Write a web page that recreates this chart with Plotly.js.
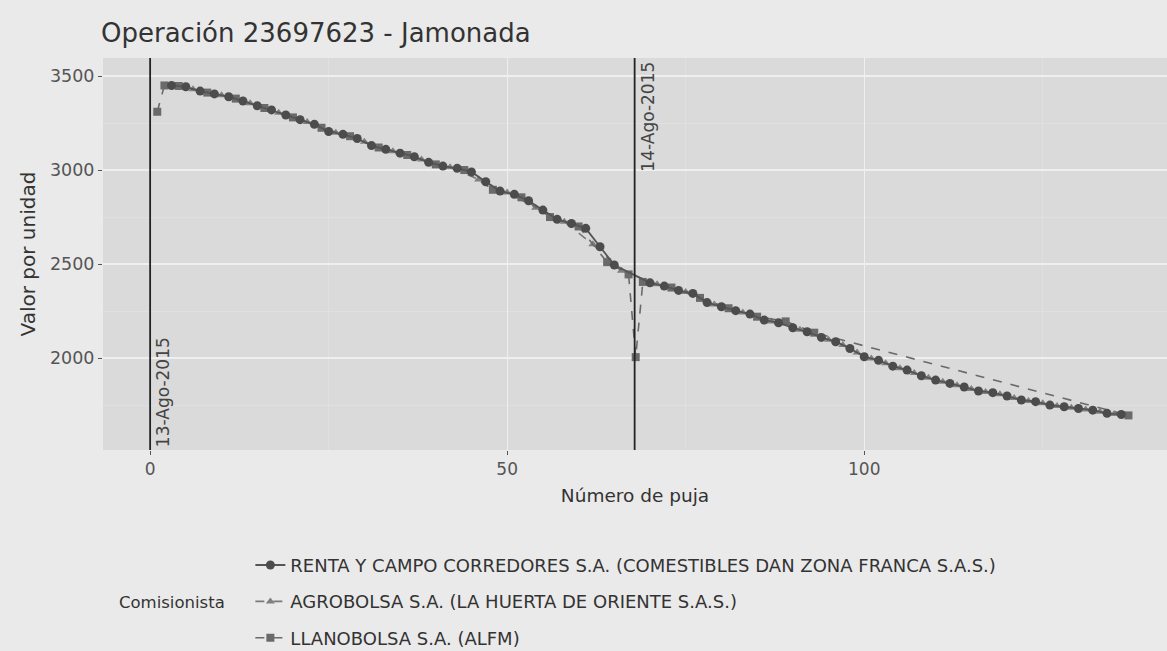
<!DOCTYPE html>
<html>
<head>
<meta charset="utf-8">
<script src="https://cdn.plot.ly/plotly-3.0.1.min.js"></script>
<style>
html,body{margin:0;padding:0;background:#eaeaea;}
#chart{width:1167px;height:651px;}
</style>
</head>
<body>
<div id="chart"></div>
<script>
// ---- Data ----
const seriesNames = [
  "RENTA Y CAMPO CORREDORES S.A. (COMESTIBLES DAN ZONA FRANCA S.A.S.)",
  "AGROBOLSA S.A. (LA HUERTA DE ORIENTE S.A.S.)",
  "LLANOBOLSA S.A. (ALFM)"
];

// RENTA Y CAMPO (circles, solid)
const rentaBid = [3,5,7,9,11,13,15,17,19,21,23,25,27,29,31,33,35,37,39,41,43,45,47,49,51,53,55,57,59,61,63,65,
  70,72,74,76,78,80,82,84,86,88,90,92,94,96,98,100,102,104,106,108,110,112,114,116,118,120,122,124,126,128,130,132,134,136];
const rentaVal = [3450,3443,3420,3405,3390,3367,3342,3320,3293,3268,3243,3205,3190,3168,3130,3110,3090,3071,3041,3021,3009,2990,2938,2888,2871,2837,2787,2738,2716,2690,2592,2495,
  2400,2383,2360,2344,2295,2273,2252,2234,2202,2188,2161,2140,2110,2087,2051,2007,1988,1957,1936,1906,1883,1865,1846,1825,1816,1798,1777,1768,1750,1741,1732,1723,1706,1700];

// AGROBOLSA (triangles, dashed)
const agroBid = [6,10,14,18,22,26,30,34,38,42,46,50,54,58,62,66,
  71,75,79,83,87,91,95,97,99,101,103,105,107,109,111,113,115,117,119,121,123,125,127,129,131,133,135];
const agroVal = [3430,3398,3355,3305,3255,3198,3150,3100,3056,3015,2950,2880,2800,2725,2605,2465,
  2392,2352,2285,2243,2195,2150,2098,2070,2030,1998,1972,1946,1920,1895,1874,1855,1835,1820,1807,1788,1772,1759,1745,1736,1727,1714,1703];

// LLANOBOLSA (squares, dashed)
const llanoBid = [1,2,4,8,12,16,20,24,28,32,36,40,44,48,52,56,60,64,67,68,69,73,77,81,85,89,93,137];
const llanoVal = [3310,3450,3447,3412,3380,3330,3280,3225,3180,3120,3080,3030,3000,2895,2855,2750,2700,2510,2445,2005,2405,2375,2320,2265,2220,2195,2135,1695];

// Day markers
const dayBid = [0, 67.85];
const dayLabel = ["13-Ago-2015", "14-Ago-2015"];
const dayLabelPos = ["bottom", "top"];

const xTicks = [0, 50, 100];
const yTicks = [2000, 2500, 3000, 3500];

// ---- Chart ----
const font = "DejaVu Sans, Liberation Sans, sans-serif";
const traces = [
  {x: agroBid, y: agroVal, name: seriesNames[1], mode: "lines+markers", legendrank: 2,
   line: {color: "#7a7a7a", width: 1.6, dash: "dash"},
   marker: {symbol: "triangle-up", size: 8, color: "#808080"}, legendgroup: "b"},
  {x: llanoBid, y: llanoVal, name: seriesNames[2], mode: "lines+markers", legendrank: 3,
   line: {color: "#6a6a6a", width: 1.6, dash: "dash"},
   marker: {symbol: "square", size: 8, color: "#6a6a6a"}, legendgroup: "c"},
  {x: rentaBid, y: rentaVal, name: seriesNames[0], mode: "lines+markers", legendrank: 1,
   line: {color: "#555555", width: 1.8, dash: "solid"},
   marker: {symbol: "circle", size: 9, color: "#4c4c4c"}, legendgroup: "a"}
];

const shapes = dayBid.map(b => ({type: "line", xref: "x", yref: "paper", x0: b, x1: b, y0: 0, y1: 1,
  line: {color: "#222", width: 1.8}}));

const annotations = dayBid.map((b, i) => ({
  x: b, xref: "x", y: dayLabelPos[i] === "bottom" ? 0 : 1, yref: "paper",
  text: dayLabel[i], showarrow: false, textangle: -90,
  xanchor: "left", yanchor: dayLabelPos[i] === "bottom" ? "bottom" : "top",
  xshift: 1, yshift: dayLabelPos[i] === "bottom" ? 1 : -2,
  font: {family: font, size: 17, color: "#444"}
}));
annotations.push({
  text: "Comisionista", xref: "paper", yref: "paper", x: 0.013, y: -0.39,
  xanchor: "left", yanchor: "middle", showarrow: false,
  font: {family: font, size: 16.5, color: "#333"}
});

const layout = {
  width: 1167, height: 651,
  paper_bgcolor: "#eaeaea", plot_bgcolor: "#dadada",
  margin: {l: 103, r: 0, t: 58, b: 201, autoexpand: false},
  title: {text: "Operación 23697623 - Jamonada", x: 101/1167, xanchor: "left", y: 0.949, yanchor: "middle",
    font: {family: font, size: 26, color: "#333"}},
  font: {family: font, color: "#444"},
  xaxis: {range: [-6.6, 142.4], tickvals: xTicks, ticks: "outside", ticklen: 4, tickcolor: "#555",
    showgrid: true, gridcolor: "#efefef", gridwidth: 1.2, zeroline: false, showline: false,
    tickfont: {family: font, size: 17, color: "#555"},
    minor: {dtick: 25, tick0: 0, showgrid: true, gridcolor: "#e4e4e4", gridwidth: 0.6},
    title: {text: "Número de puja", font: {family: font, size: 18.5, color: "#333"}, standoff: 10}},
  yaxis: {range: [1511, 3596], tickvals: yTicks, ticks: "outside", ticklen: 4, tickcolor: "#555",
    showgrid: true, gridcolor: "#efefef", gridwidth: 1.2, zeroline: false, showline: false,
    tickfont: {family: font, size: 17.5, color: "#555"},
    minor: {dtick: 250, tick0: 0, showgrid: true, gridcolor: "#e4e4e4", gridwidth: 0.6},
    title: {text: "Valor por unidad", font: {family: font, size: 20, color: "#333"}, standoff: 8}},
  showlegend: true,
  legend: {orientation: "v", x: 0.1385, xanchor: "left", y: -0.247, yanchor: "top",
    bgcolor: "rgba(0,0,0,0)", font: {family: font, size: 18, color: "#333"},
    tracegroupgap: 10, itemwidth: 30},
  shapes: shapes,
  annotations: annotations
};

Plotly.newPlot("chart", traces, layout, {displayModeBar: false, staticPlot: true});
</script>
</body>
</html>
